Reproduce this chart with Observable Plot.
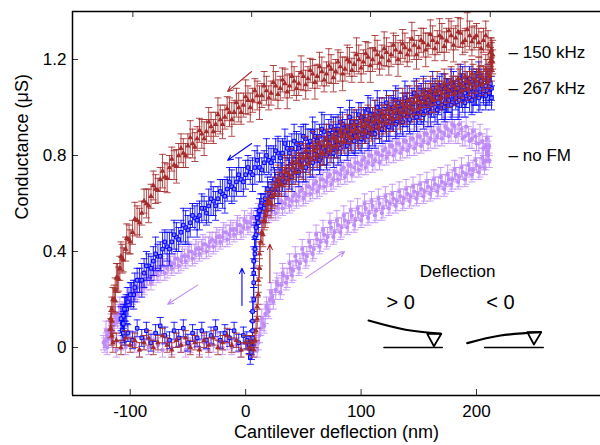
<!DOCTYPE html>
<html><head><meta charset="utf-8">
<script src="https://cdn.jsdelivr.net/npm/d3@7"></script>
<script src="https://cdn.jsdelivr.net/npm/@observablehq/plot@0.6"></script>
<style>body{margin:0;background:#fff;} svg{display:block;}</style>
</head><body><div id="chart"></div>
<script>
// ---- axes ----
const xDomain = [-150, 307.4];
const yDomain = [-0.2, 1.4];
const xTicks = [-100, 0, 100, 200];
const xTopTicks = [-97.7, 5.2, 108.2, 211.9];
const yTicks = [0, 0.4, 0.8, 1.2];
const xLabel = "Cantilever deflection (nm)";
const yLabel = "Conductance (μS)";

// ---- series ----
const seriesNames = ["150 kHz", "267 kHz", "no FM"];
const seriesColors = ["#a52a2a", "#0000ff", "#bf8cf7"];
const seriesLabelY = [1.23, 1.079, 0.80];

// points: [deflection nm, conductance µS, error µS]
const brownRise = [[7,-0.01,0.03],[8,0.03,0.03],[9,0.07,0.04],[10,0.12,0.04],[10,0.17,0.04],[11,0.22,0.04],[11,0.28,0.05],[12,0.33,0.04],[12,0.39,0.05],[13,0.44,0.04],[14,0.48,0.05],[16,0.53,0.04],[18,0.57,0.05],[20,0.61,0.04],[23,0.63,0.05],[26,0.67,0.04],[29,0.68,0.05],[32,0.71,0.04],[35,0.73,0.06],[38,0.72,0.04],[41,0.75,0.05],[44,0.77,0.04],[47,0.76,0.05],[50,0.79,0.06],[53,0.8,0.04],[56,0.79,0.05],[59,0.82,0.04],[62,0.83,0.05],[65,0.81,0.05],[68,0.84,0.04],[71,0.85,0.06],[74,0.84,0.05],[77,0.87,0.04],[80,0.86,0.05],[83,0.88,0.06],[86,0.89,0.04],[89,0.88,0.05],[92,0.9,0.05],[95,0.91,0.04],[98,0.9,0.06],[101,0.92,0.05],[104,0.93,0.04],[107,0.92,0.05],[110,0.94,0.06],[113,0.95,0.04],[116,0.94,0.05],[119,0.96,0.05],[122,0.97,0.04],[125,0.96,0.06],[128,0.98,0.05],[131,0.99,0.04],[134,0.98,0.05],[137,1.0,0.06],[140,1.01,0.05],[143,1.0,0.04],[146,1.02,0.05],[149,1.03,0.06],[152,1.02,0.05],[155,1.04,0.04],[158,1.05,0.05],[161,1.04,0.06],[164,1.06,0.05],[167,1.07,0.04],[170,1.06,0.05],[173,1.08,0.06],[176,1.07,0.05],[179,1.09,0.04],[182,1.08,0.05],[185,1.1,0.06],[188,1.09,0.05],[191,1.11,0.04],[194,1.1,0.05],[197,1.12,0.06],[200,1.11,0.05],[203,1.13,0.04],[206,1.12,0.05],[209,1.14,0.06],[211,1.13,0.05],[213,1.16,0.05],[214,1.19,0.05],[214,1.22,0.06],[213,1.24,0.05]];
const brownRiseB = [[15,0.47,0.05],[17,0.55,0.05],[19,0.60,0.05],[22,0.60,0.06],[25,0.64,0.05],[28,0.70,0.06],[31,0.68,0.05],[34,0.74,0.06],[37,0.70,0.05],[40,0.77,0.06],[43,0.73,0.05],[46,0.79,0.06],[49,0.75,0.05],[52,0.82,0.06],[55,0.77,0.05],[58,0.84,0.06],[61,0.80,0.05],[64,0.85,0.06],[67,0.81,0.05],[70,0.87,0.06],[73,0.82,0.05],[76,0.88,0.06],[79,0.84,0.05],[82,0.90,0.06],[85,0.86,0.05],[88,0.91,0.06],[91,0.87,0.05],[94,0.93,0.06],[97,0.88,0.05],[100,0.94,0.06],[103,0.90,0.05],[106,0.95,0.06],[109,0.91,0.05],[112,0.97,0.06],[115,0.92,0.05],[118,0.98,0.06],[121,0.94,0.05],[124,0.99,0.06],[127,0.95,0.05],[130,1.01,0.06],[133,0.96,0.05],[136,1.02,0.06],[139,0.98,0.05],[142,1.03,0.06],[145,0.99,0.05],[148,1.05,0.06],[151,1.00,0.05],[154,1.06,0.06],[157,1.02,0.05],[160,1.07,0.06],[163,1.03,0.05],[166,1.09,0.06],[169,1.04,0.05],[172,1.10,0.06],[175,1.05,0.05],[178,1.11,0.06],[181,1.06,0.05],[184,1.12,0.06],[187,1.07,0.05],[190,1.13,0.06],[193,1.08,0.05],[196,1.14,0.06],[199,1.09,0.05],[202,1.15,0.06],[205,1.10,0.05],[208,1.16,0.06],[210,1.11,0.05],[212,1.19,0.06],[213,1.21,0.06],[212,1.23,0.06]];
const brownReturn = [[210,1.26,0.06],[206,1.28,0.05],[202,1.27,0.06],[198,1.29,0.05],[194,1.3,0.06],[190,1.28,0.05],[186,1.31,0.06],[182,1.29,0.05],[178,1.3,0.06],[174,1.28,0.05],[170,1.29,0.06],[166,1.27,0.05],[162,1.28,0.06],[158,1.26,0.05],[154,1.27,0.06],[150,1.25,0.05],[146,1.26,0.06],[142,1.24,0.05],[138,1.25,0.06],[134,1.23,0.05],[130,1.24,0.06],[126,1.22,0.05],[122,1.23,0.06],[118,1.21,0.05],[114,1.22,0.06],[110,1.2,0.05],[106,1.21,0.06],[102,1.19,0.05],[98,1.2,0.06],[94,1.18,0.05],[90,1.19,0.06],[86,1.16,0.05],[82,1.17,0.06],[78,1.15,0.05],[74,1.16,0.06],[70,1.14,0.05],[66,1.15,0.06],[62,1.13,0.05],[58,1.14,0.06],[54,1.12,0.05],[50,1.13,0.06],[46,1.1,0.05],[42,1.11,0.06],[38,1.09,0.05],[34,1.1,0.06],[30,1.08,0.05],[26,1.09,0.06],[22,1.06,0.05],[18,1.07,0.06],[14,1.05,0.05],[10,1.05,0.06],[6,1.03,0.05],[2,1.03,0.06],[-2,1.01,0.05],[-6,1.0,0.06],[-10,0.98,0.05],[-14,0.98,0.06],[-18,0.96,0.05],[-22,0.95,0.06],[-26,0.93,0.05],[-30,0.92,0.06],[-34,0.9,0.05],[-38,0.89,0.06],[-42,0.87,0.05],[-46,0.85,0.06],[-50,0.84,0.05],[-54,0.81,0.06],[-58,0.8,0.05],[-62,0.76,0.06],[-66,0.75,0.05],[-70,0.71,0.06],[-74,0.7,0.05],[-78,0.66,0.06],[-82,0.63,0.05],[-86,0.6,0.06],[-90,0.56,0.05],[-94,0.53,0.06],[-98,0.48,0.05],[-101,0.45,0.06],[-104,0.41,0.05],[-107,0.37,0.06],[-109,0.33,0.05],[-111,0.29,0.06],[-113,0.24,0.05],[-114,0.2,0.06],[-116,0.16,0.05],[-117,0.12,0.05],[-117,0.08,0.04],[-116,0.05,0.04],[-115,0.02,0.04]];
const brownReturnB = [[208,1.30,0.06],[204,1.245,0.07],[200,1.30,0.05],[196,1.275,0.06],[192,1.325,0.07],[188,1.27,0.05],[184,1.315,0.06],[180,1.26,0.07],[176,1.32,0.05],[172,1.255,0.06],[168,1.30,0.07],[164,1.245,0.05],[160,1.305,0.06],[156,1.24,0.07],[152,1.28,0.05],[148,1.22,0.06],[144,1.285,0.07],[140,1.22,0.05],[136,1.265,0.06],[132,1.20,0.07],[128,1.26,0.05],[124,1.195,0.06],[120,1.245,0.07],[116,1.185,0.05],[112,1.24,0.06],[108,1.175,0.07],[104,1.225,0.05],[100,1.165,0.06],[96,1.22,0.07],[92,1.155,0.05],[88,1.20,0.06],[84,1.14,0.07],[80,1.19,0.05],[76,1.125,0.06],[72,1.175,0.07],[68,1.115,0.05],[64,1.17,0.06],[60,1.105,0.07],[56,1.155,0.05],[52,1.095,0.06],[48,1.145,0.07],[44,1.08,0.05],[40,1.13,0.06],[36,1.065,0.07],[32,1.115,0.05],[28,1.055,0.06],[24,1.105,0.07],[20,1.04,0.05],[16,1.09,0.06],[12,1.02,0.07],[8,1.07,0.05],[4,1.00,0.06],[0,1.045,0.07],[-4,0.98,0.05],[-8,1.02,0.06],[-12,0.95,0.07],[-16,0.995,0.05],[-20,0.93,0.06],[-24,0.97,0.07],[-28,0.90,0.05],[-32,0.94,0.06],[-36,0.87,0.07],[-40,0.905,0.05],[-44,0.835,0.06],[-48,0.875,0.07],[-52,0.80,0.05],[-56,0.83,0.06],[-60,0.755,0.07],[-64,0.785,0.05],[-68,0.705,0.06],[-72,0.735,0.07],[-76,0.655,0.05],[-80,0.675,0.06],[-84,0.59,0.07],[-88,0.61,0.05],[-92,0.52,0.06],[-96,0.535,0.07],[-100,0.44,0.05],[-103,0.455,0.06],[-106,0.365,0.05],[-108,0.38,0.06],[-110,0.285,0.05],[-112,0.29,0.06],[-113,0.195,0.05],[-115,0.20,0.05],[-116,0.11,0.04]];
const brownZero = [[-112,0.03,0.03],[-108,0.0,0.03],[-104,0.04,0.03],[-100,0.01,0.03],[-96,0.03,0.03],[-92,-0.01,0.03],[-88,0.02,0.03],[-84,0.04,0.03],[-80,0.0,0.03],[-76,0.02,0.03],[-72,0.05,0.03],[-68,0.01,0.03],[-64,-0.01,0.03],[-60,0.03,0.03],[-56,0.01,0.03],[-52,0.04,0.03],[-48,0.0,0.03],[-44,0.02,0.03],[-40,-0.01,0.03],[-36,0.03,0.03],[-32,0.01,0.03],[-28,0.04,0.03],[-24,0.0,0.03],[-20,0.02,0.03],[-16,0.05,0.03],[-12,0.01,0.03],[-8,0.03,0.03],[-4,-0.01,0.03],[0,0.02,0.03],[3,0.0,0.03],[5,0.02,0.03]];

const blueRise = [[4,-0.04,0.03],[5,-0.02,0.03],[5,0.0,0.03],[5,0.02,0.03],[6,0.04,0.03],[6,0.07,0.04],[6,0.11,0.04],[6,0.15,0.04],[7,0.2,0.05],[7,0.27,0.06],[7,0.36,0.06],[8,0.41,0.05],[8,0.46,0.05],[9,0.5,0.05],[10,0.54,0.04],[12,0.57,0.05],[14,0.6,0.04],[17,0.62,0.05],[20,0.64,0.05],[23,0.66,0.04],[26,0.68,0.05],[29,0.69,0.06],[32,0.7,0.05],[35,0.72,0.04],[38,0.71,0.05],[41,0.74,0.06],[44,0.74,0.05],[47,0.76,0.05],[50,0.75,0.06],[53,0.78,0.05],[56,0.77,0.06],[59,0.79,0.05],[62,0.8,0.06],[65,0.79,0.05],[68,0.82,0.06],[71,0.81,0.05],[74,0.83,0.06],[77,0.84,0.05],[80,0.83,0.07],[83,0.85,0.05],[86,0.86,0.06],[89,0.85,0.05],[92,0.87,0.06],[95,0.88,0.07],[98,0.87,0.05],[101,0.89,0.06],[104,0.9,0.05],[107,0.89,0.06],[110,0.91,0.07],[113,0.92,0.05],[116,0.91,0.06],[119,0.93,0.05],[122,0.93,0.07],[125,0.94,0.06],[128,0.95,0.05],[131,0.94,0.06],[134,0.96,0.07],[137,0.97,0.05],[140,0.96,0.06],[143,0.98,0.05],[146,0.97,0.07],[149,0.99,0.06],[152,0.98,0.05],[155,1.0,0.06],[158,0.99,0.07],[161,1.01,0.05],[164,1.0,0.06],[167,1.02,0.05],[170,1.01,0.06],[173,1.02,0.07],[176,1.03,0.05],[179,1.02,0.06],[182,1.04,0.05],[185,1.03,0.07],[188,1.04,0.06],[191,1.05,0.05],[194,1.04,0.06],[197,1.05,0.07],[200,1.06,0.05],[203,1.05,0.06],[206,1.06,0.05],[209,1.07,0.06],[211,1.06,0.05],[213,1.08,0.05]];
const blueRiseB = [[7,0.31,0.06],[8,0.39,0.06],[9,0.47,0.05],[11,0.52,0.05],[13,0.59,0.05],[16,0.58,0.06],[19,0.66,0.05],[22,0.63,0.06],[25,0.70,0.05],[28,0.66,0.06],[31,0.72,0.05],[34,0.69,0.06],[37,0.74,0.05],[40,0.71,0.06],[43,0.77,0.05],[46,0.73,0.06],[49,0.78,0.05],[52,0.75,0.06],[55,0.80,0.05],[58,0.77,0.06],[61,0.82,0.05],[64,0.78,0.06],[67,0.83,0.07],[70,0.80,0.06],[73,0.85,0.05],[76,0.81,0.06],[79,0.86,0.07],[82,0.83,0.06],[85,0.88,0.05],[88,0.84,0.06],[91,0.89,0.07],[94,0.86,0.06],[97,0.90,0.05],[100,0.87,0.06],[103,0.92,0.07],[106,0.88,0.06],[109,0.93,0.05],[112,0.89,0.06],[115,0.94,0.07],[118,0.91,0.06],[121,0.95,0.05],[124,0.92,0.06],[127,0.97,0.07],[130,0.93,0.06],[133,0.98,0.05],[136,0.94,0.06],[139,0.99,0.07],[142,0.95,0.06],[145,1.00,0.05],[148,0.96,0.06],[151,1.01,0.07],[154,0.97,0.06],[157,1.02,0.05],[160,0.98,0.06],[163,1.03,0.07],[166,0.99,0.06],[169,1.04,0.05],[172,1.00,0.06],[175,1.05,0.07],[178,1.01,0.06],[181,1.06,0.05],[184,1.01,0.06],[187,1.07,0.07],[190,1.02,0.06],[193,1.07,0.05],[196,1.03,0.06],[199,1.08,0.07],[202,1.04,0.06],[205,1.09,0.05],[208,1.05,0.06],[211,1.09,0.07],[213,1.04,0.05]];
const blueReturn = [[212,1.1,0.05],[208,1.09,0.06],[204,1.11,0.05],[200,1.1,0.06],[196,1.11,0.05],[192,1.09,0.06],[188,1.1,0.07],[184,1.08,0.05],[180,1.09,0.06],[176,1.07,0.05],[172,1.08,0.06],[168,1.06,0.07],[164,1.07,0.05],[160,1.05,0.06],[156,1.06,0.05],[152,1.04,0.06],[148,1.05,0.07],[144,1.03,0.05],[140,1.03,0.06],[136,1.01,0.05],[132,1.02,0.06],[128,1.0,0.07],[124,1.0,0.05],[120,0.98,0.06],[116,0.99,0.05],[112,0.97,0.06],[108,0.97,0.07],[104,0.95,0.05],[100,0.96,0.06],[96,0.94,0.05],[92,0.94,0.06],[88,0.92,0.07],[84,0.93,0.05],[80,0.91,0.06],[76,0.91,0.05],[72,0.89,0.06],[68,0.9,0.07],[64,0.88,0.05],[60,0.88,0.06],[56,0.86,0.05],[52,0.87,0.06],[48,0.85,0.07],[44,0.85,0.05],[40,0.83,0.06],[36,0.83,0.05],[32,0.81,0.06],[28,0.81,0.07],[24,0.79,0.05],[20,0.78,0.06],[16,0.77,0.05],[12,0.75,0.06],[8,0.75,0.07],[4,0.73,0.05],[0,0.72,0.06],[-4,0.7,0.05],[-8,0.69,0.06],[-12,0.67,0.07],[-16,0.66,0.05],[-20,0.64,0.06],[-24,0.62,0.05],[-28,0.61,0.06],[-32,0.59,0.07],[-36,0.58,0.05],[-40,0.55,0.06],[-44,0.54,0.05],[-48,0.52,0.06],[-52,0.5,0.07],[-56,0.48,0.05],[-60,0.46,0.06],[-64,0.44,0.05],[-68,0.42,0.06],[-72,0.41,0.07],[-76,0.38,0.05],[-80,0.36,0.06],[-84,0.34,0.05],[-88,0.31,0.06],[-92,0.28,0.05],[-96,0.25,0.06],[-99,0.22,0.05],[-102,0.19,0.06],[-104,0.16,0.05],[-106,0.13,0.05],[-107,0.1,0.04],[-107,0.07,0.04],[-105,0.05,0.04]];
const blueReturnB = [[210,1.12,0.06],[206,1.07,0.05],[202,1.13,0.06],[198,1.08,0.07],[194,1.12,0.05],[190,1.06,0.06],[186,1.11,0.07],[182,1.06,0.05],[178,1.10,0.06],[174,1.05,0.07],[170,1.09,0.05],[166,1.04,0.06],[162,1.08,0.07],[158,1.03,0.05],[154,1.07,0.06],[150,1.02,0.07],[146,1.06,0.05],[142,1.00,0.06],[138,1.04,0.07],[134,0.99,0.05],[130,1.03,0.06],[126,0.98,0.07],[122,1.02,0.05],[118,0.96,0.06],[114,1.00,0.07],[110,0.95,0.05],[106,0.99,0.06],[102,0.93,0.07],[98,0.97,0.05],[94,0.92,0.06],[90,0.96,0.07],[86,0.90,0.05],[82,0.94,0.06],[78,0.89,0.07],[74,0.92,0.05],[70,0.87,0.06],[66,0.91,0.07],[62,0.86,0.05],[58,0.90,0.06],[54,0.84,0.07],[50,0.88,0.05],[46,0.83,0.06],[42,0.86,0.07],[38,0.81,0.05],[34,0.85,0.06],[30,0.79,0.07],[26,0.82,0.05],[22,0.77,0.06],[18,0.80,0.07],[14,0.74,0.05],[10,0.78,0.06],[6,0.72,0.07],[2,0.75,0.05],[-2,0.69,0.06],[-6,0.72,0.07],[-10,0.66,0.05],[-14,0.69,0.06],[-18,0.63,0.07],[-22,0.65,0.05],[-26,0.59,0.06],[-30,0.62,0.07],[-34,0.56,0.05],[-38,0.58,0.06],[-42,0.53,0.07],[-46,0.55,0.05],[-50,0.49,0.06],[-54,0.51,0.07],[-58,0.45,0.05],[-62,0.47,0.06],[-66,0.41,0.07],[-70,0.44,0.05],[-74,0.38,0.06],[-78,0.39,0.07],[-82,0.33,0.05],[-86,0.34,0.06],[-90,0.28,0.07],[-94,0.28,0.05],[-97,0.22,0.06],[-100,0.22,0.05],[-103,0.16,0.06],[-105,0.16,0.05],[-106,0.10,0.05],[-108,0.12,0.05],[-106,0.06,0.04]];
const blueZero = [[-102,0.06,0.035],[-98,0.03,0.035],[-94,0.08,0.035],[-90,0.04,0.035],[-86,0.07,0.035],[-82,0.02,0.035],[-78,0.06,0.035],[-74,0.09,0.035],[-70,0.05,0.035],[-66,0.03,0.035],[-62,0.07,0.035],[-58,0.04,0.035],[-54,0.08,0.035],[-50,0.02,0.035],[-46,0.06,0.035],[-42,0.04,0.035],[-38,0.07,0.035],[-34,0.03,0.035],[-30,0.05,0.035],[-26,0.08,0.035],[-22,0.03,0.035],[-18,0.06,0.035],[-14,0.04,0.035],[-10,0.07,0.035],[-6,0.02,0.035],[-2,0.05,0.035],[1,0.03,0.035],[3,0.01,0.035]];

const purpleRise = [[10,-0.01,0.03],[11,0.02,0.03],[12,0.05,0.03],[13,0.08,0.03],[15,0.1,0.03],[17,0.14,0.04],[19,0.16,0.03],[21,0.2,0.04],[23,0.21,0.03],[26,0.24,0.04],[28,0.26,0.03],[31,0.26,0.04],[33,0.3,0.03],[36,0.29,0.04],[39,0.33,0.03],[41,0.32,0.04],[44,0.36,0.03],[47,0.35,0.04],[50,0.39,0.03],[53,0.38,0.04],[56,0.42,0.03],[59,0.41,0.04],[62,0.45,0.03],[65,0.44,0.04],[68,0.47,0.03],[71,0.46,0.04],[74,0.5,0.03],[77,0.48,0.04],[80,0.51,0.03],[83,0.5,0.04],[86,0.53,0.03],[89,0.52,0.04],[92,0.55,0.03],[95,0.53,0.04],[98,0.56,0.03],[101,0.55,0.04],[104,0.58,0.03],[107,0.56,0.04],[110,0.59,0.03],[113,0.57,0.04],[116,0.6,0.03],[119,0.58,0.04],[122,0.61,0.03],[125,0.6,0.04],[128,0.62,0.03],[131,0.61,0.04],[134,0.63,0.03],[137,0.62,0.04],[140,0.64,0.03],[143,0.63,0.04],[146,0.65,0.03],[149,0.64,0.04],[152,0.66,0.03],[155,0.65,0.04],[158,0.67,0.03],[161,0.66,0.04],[164,0.68,0.03],[167,0.67,0.04],[170,0.69,0.03],[173,0.68,0.04],[176,0.7,0.03],[179,0.7,0.04],[182,0.72,0.03],[185,0.71,0.04],[188,0.73,0.03],[191,0.72,0.04],[194,0.74,0.03],[197,0.74,0.04],[200,0.76,0.03],[203,0.75,0.04],[206,0.77,0.03],[208,0.78,0.04],[210,0.8,0.03],[210,0.82,0.04]];
const purpleRiseB = [[14,0.12,0.04],[16,0.09,0.03],[18,0.17,0.04],[20,0.15,0.03],[22,0.23,0.04],[24,0.19,0.03],[27,0.27,0.04],[30,0.23,0.03],[32,0.31,0.04],[35,0.27,0.03],[38,0.35,0.04],[40,0.30,0.03],[43,0.38,0.04],[46,0.33,0.03],[49,0.41,0.04],[52,0.36,0.03],[55,0.44,0.04],[58,0.39,0.03],[61,0.47,0.04],[64,0.42,0.03],[67,0.49,0.04],[70,0.44,0.03],[73,0.52,0.04],[76,0.46,0.03],[79,0.53,0.04],[82,0.48,0.03],[85,0.55,0.04],[88,0.50,0.03],[91,0.57,0.04],[94,0.51,0.03],[97,0.58,0.04],[100,0.53,0.03],[103,0.60,0.04],[106,0.54,0.03],[109,0.61,0.04],[112,0.55,0.03],[115,0.62,0.04],[118,0.56,0.03],[121,0.63,0.04],[124,0.58,0.03],[127,0.64,0.04],[130,0.59,0.03],[133,0.65,0.04],[136,0.60,0.03],[139,0.66,0.04],[142,0.61,0.03],[145,0.67,0.04],[148,0.62,0.03],[151,0.68,0.04],[154,0.63,0.03],[157,0.69,0.04],[160,0.64,0.03],[163,0.70,0.04],[166,0.65,0.03],[169,0.71,0.04],[172,0.66,0.03],[175,0.72,0.04],[178,0.68,0.03],[181,0.74,0.04],[184,0.69,0.03],[187,0.75,0.04],[190,0.70,0.03],[193,0.76,0.04],[196,0.72,0.03],[199,0.78,0.04],[202,0.73,0.03],[205,0.79,0.04],[207,0.75,0.03],[209,0.81,0.04],[211,0.78,0.03],[211,0.84,0.04]];
const purpleReturn = [[208,0.84,0.04],[205,0.86,0.03],[202,0.85,0.04],[199,0.88,0.03],[196,0.87,0.04],[193,0.89,0.03],[190,0.88,0.04],[187,0.91,0.03],[184,0.89,0.04],[181,0.92,0.03],[178,0.9,0.04],[175,0.91,0.03],[172,0.89,0.04],[169,0.9,0.03],[166,0.88,0.04],[163,0.9,0.03],[160,0.87,0.04],[157,0.89,0.03],[154,0.86,0.04],[151,0.88,0.03],[148,0.85,0.04],[145,0.87,0.03],[142,0.84,0.04],[139,0.86,0.03],[136,0.83,0.04],[133,0.85,0.03],[130,0.82,0.04],[127,0.84,0.03],[124,0.81,0.04],[121,0.83,0.03],[118,0.8,0.04],[115,0.81,0.03],[112,0.78,0.04],[109,0.8,0.03],[106,0.77,0.04],[103,0.79,0.03],[100,0.76,0.04],[97,0.77,0.03],[94,0.75,0.04],[91,0.76,0.03],[88,0.73,0.04],[85,0.75,0.03],[82,0.72,0.04],[79,0.73,0.03],[76,0.7,0.04],[73,0.72,0.03],[70,0.69,0.04],[67,0.7,0.03],[64,0.67,0.04],[61,0.69,0.03],[58,0.66,0.04],[55,0.67,0.03],[52,0.64,0.04],[49,0.66,0.03],[46,0.63,0.04],[43,0.64,0.03],[40,0.61,0.04],[37,0.62,0.03],[34,0.6,0.04],[31,0.61,0.03],[28,0.58,0.04],[25,0.59,0.03],[22,0.57,0.04],[19,0.57,0.03],[16,0.55,0.04],[13,0.56,0.03],[10,0.53,0.04],[7,0.54,0.03],[4,0.52,0.04],[1,0.52,0.03],[-2,0.5,0.04],[-5,0.51,0.03],[-8,0.49,0.04],[-11,0.49,0.03],[-14,0.47,0.04],[-17,0.48,0.03],[-20,0.46,0.04],[-23,0.46,0.03],[-26,0.44,0.04],[-29,0.45,0.03],[-32,0.42,0.04],[-35,0.43,0.03],[-38,0.41,0.04],[-41,0.41,0.03],[-44,0.39,0.04],[-47,0.4,0.03],[-50,0.38,0.04],[-53,0.38,0.03],[-56,0.36,0.04],[-59,0.37,0.03],[-62,0.35,0.04],[-65,0.35,0.03],[-68,0.33,0.04],[-71,0.34,0.03],[-74,0.32,0.04],[-77,0.31,0.03],[-80,0.3,0.04],[-83,0.29,0.03],[-86,0.28,0.04],[-89,0.26,0.03],[-92,0.25,0.04],[-95,0.23,0.03],[-98,0.22,0.04],[-101,0.2,0.03],[-104,0.18,0.04],[-107,0.16,0.03],[-110,0.14,0.04],[-112,0.12,0.03],[-114,0.1,0.04],[-116,0.08,0.03],[-118,0.07,0.04],[-120,0.05,0.03],[-121,0.03,0.03],[-122,0.01,0.03]];
const purpleReturnB = [[209,0.87,0.04],[206,0.83,0.03],[203,0.89,0.04],[200,0.85,0.03],[197,0.90,0.04],[194,0.86,0.03],[191,0.92,0.04],[188,0.87,0.03],[185,0.93,0.04],[182,0.88,0.03],[179,0.93,0.04],[176,0.88,0.03],[173,0.92,0.04],[170,0.87,0.03],[167,0.91,0.04],[164,0.86,0.03],[161,0.90,0.04],[158,0.85,0.03],[155,0.89,0.04],[152,0.84,0.03],[149,0.88,0.04],[146,0.83,0.03],[143,0.87,0.04],[140,0.82,0.03],[137,0.86,0.04],[134,0.81,0.03],[131,0.85,0.04],[128,0.80,0.03],[125,0.84,0.04],[122,0.79,0.03],[119,0.82,0.04],[116,0.77,0.03],[113,0.81,0.04],[110,0.76,0.03],[107,0.80,0.04],[104,0.75,0.03],[101,0.78,0.04],[98,0.74,0.03],[95,0.77,0.04],[92,0.72,0.03],[89,0.76,0.04],[86,0.71,0.03],[83,0.74,0.04],[80,0.70,0.03],[77,0.73,0.04],[74,0.68,0.03],[71,0.71,0.04],[68,0.67,0.03],[65,0.70,0.04],[62,0.65,0.03],[59,0.68,0.04],[56,0.64,0.03],[53,0.67,0.04],[50,0.62,0.03],[47,0.65,0.04],[44,0.61,0.03],[41,0.63,0.04],[38,0.59,0.03],[35,0.62,0.04],[32,0.58,0.03],[29,0.60,0.04],[26,0.56,0.03],[23,0.59,0.04],[20,0.55,0.03],[17,0.57,0.04],[14,0.53,0.03],[11,0.56,0.04],[8,0.51,0.03],[5,0.54,0.04],[2,0.50,0.03],[-1,0.53,0.04],[-4,0.48,0.03],[-7,0.51,0.04],[-10,0.47,0.03],[-13,0.49,0.04],[-16,0.45,0.03],[-19,0.48,0.04],[-22,0.44,0.03],[-25,0.46,0.04],[-28,0.42,0.03],[-31,0.44,0.04],[-34,0.40,0.03],[-37,0.43,0.04],[-40,0.39,0.03],[-43,0.41,0.04],[-46,0.37,0.03],[-49,0.40,0.04],[-52,0.36,0.03],[-55,0.38,0.04],[-58,0.34,0.03],[-61,0.37,0.04],[-64,0.33,0.03],[-67,0.35,0.04],[-70,0.31,0.03],[-73,0.34,0.04],[-76,0.30,0.03],[-79,0.32,0.04],[-82,0.27,0.03],[-85,0.30,0.04],[-88,0.25,0.03],[-91,0.27,0.04],[-94,0.22,0.03],[-97,0.24,0.04],[-100,0.19,0.03],[-103,0.21,0.04],[-106,0.15,0.03],[-109,0.17,0.04],[-111,0.11,0.03],[-113,0.13,0.04],[-115,0.07,0.03],[-117,0.10,0.04],[-119,0.04,0.03],[-121,0.07,0.04],[-123,0.02,0.03]];
const purpleZero = [[-120,0.0,0.03],[-116,0.03,0.03],[-112,-0.01,0.03],[-108,0.02,0.03],[-104,0.0,0.03],[-100,0.04,0.03],[-96,0.01,0.03],[-92,-0.01,0.03],[-88,0.02,0.03],[-84,0.0,0.03],[-80,0.03,0.03],[-76,0.01,0.03],[-72,-0.01,0.03],[-68,0.02,0.03],[-64,0.0,0.03],[-60,0.03,0.03],[-56,0.01,0.03],[-52,-0.01,0.03],[-48,0.01,0.03],[-44,0.03,0.03],[-40,0.0,0.03],[-36,0.02,0.03],[-32,-0.01,0.03],[-28,0.01,0.03],[-24,0.03,0.03],[-20,0.0,0.03],[-16,0.02,0.03],[-12,0.0,0.03],[-8,0.01,0.03],[-4,-0.01,0.03],[0,0.02,0.03],[4,0.0,0.03],[8,0.01,0.03]];

// ---- annotations ----
const arrowSeries = [0, 1, 2, 2, 1, 0];
const arrowFrom = [[5.2,1.15],[5.2,0.85],[-41.6,0.26],[52,0.29],[-3.2,0.175],[21,0.27]];
const arrowTo = [[-15.6,1.067],[-15.6,0.78],[-67.5,0.18],[85.7,0.40],[-3.2,0.33],[21,0.43]];
const insetTitle = "Deflection";
const insetTitlePos = [183.6, 0.317];
const insetSigns = ["> 0", "< 0"];
const insetSignPos = [[134.2, 0.1875], [220.8, 0.1875]];
const beamDown = [[106.5,0.1125],[138.6,0.074],[168.9,0.058]];
const beamUp = [[192,0.018],[220.8,0.05],[255.5,0.064]];
const tipDown = [[157.3,0.057],[169.5,0.057],[163.1,0.005],[157.3,0.057]];
const tipUp = [[244,0.064],[256.1,0.064],[249.7,0.0125],[244,0.064]];
const baseDown = [[119.8,0],[170.3,0]];
const baseUp = [[207,0],[257.8,0]];
const seriesLabelX = 227.8;

// ---- build ----
const W = 600, H = 445, mL = 72, mR = 0, mT = 11, mB = 50;
const innerW = W - mL - mR, innerH = H - mT - mB;
const segments = [
  [brownRise, brownRiseB, brownReturn, brownReturnB, brownZero],
  [blueRise, blueRiseB, blueReturn, blueReturnB, blueZero],
  [purpleRise, purpleRiseB, purpleReturn, purpleReturnB, purpleZero]
];
const rowsBySeries = segments.map((segs, s) => segs.flat().map(([x, y, e]) => ({s, x, y, lo: y - e, hi: y + e})));
const capSymbol = {draw(ctx, size) { const r = Math.sqrt(size / Math.PI); ctx.moveTo(-r, 0); ctx.lineTo(r, 0); }};
const markerSymbol = ["triangle", "square", "circle"];

const seriesMarks = (s) => {
  const rows = rowsBySeries[s], c = seriesColors[s];
  return [
    Plot.ruleX(rows, {x: "x", y1: "lo", y2: "hi", stroke: c, strokeWidth: 1, strokeOpacity: 0.85}),
    Plot.dot(rows, {x: "x", y: "lo", symbol: capSymbol, r: 3.5, stroke: c, fill: "none", strokeWidth: 1, strokeOpacity: 0.85}),
    Plot.dot(rows, {x: "x", y: "hi", symbol: capSymbol, r: 3.5, stroke: c, fill: "none", strokeWidth: 1, strokeOpacity: 0.85}),
    s === 1
      ? Plot.dot(rows, {x: "x", y: "y", symbol: "square", r: 2, stroke: c, fill: "#8080ff", strokeWidth: 1})
      : Plot.dot(rows, {x: "x", y: "y", symbol: markerSymbol[s], r: 2.1, fill: c, stroke: "none"})
  ];
};

const arrows = arrowSeries.map((s, i) => ({s, x1: arrowFrom[i][0], y1: arrowFrom[i][1], x2: arrowTo[i][0], y2: arrowTo[i][1]}));
const labels = seriesNames.map((n, i) => ({text: "\u2013 " + n, x: seriesLabelX, y: seriesLabelY[i]}));
const pts = (a) => a.map(([x, y]) => ({x, y}));

const chart = Plot.plot({
  width: W, height: H,
  marginLeft: mL, marginRight: mR, marginTop: mT, marginBottom: mB,
  style: {fontFamily: "'Liberation Sans', Arial, sans-serif", fontSize: "17px", background: "#fff", color: "#000"},
  x: {domain: xDomain, ticks: xTicks, tickSize: 0, tickPadding: 9, tickFormat: d => String(d), label: null},
  y: {domain: yDomain, ticks: yTicks, tickSize: 0, tickPadding: 6, tickFormat: d => String(d), label: null},
  marks: [
    ...seriesMarks(2), ...seriesMarks(1), ...seriesMarks(0),
    Plot.arrow(arrows, {x1: "x1", y1: "y1", x2: "x2", y2: "y2", stroke: d => seriesColors[d.s], headLength: 8, headAngle: 50, strokeWidth: 1.1, bend: 0}),
    Plot.text(labels, {x: "x", y: "y", text: "text", textAnchor: "start", fontSize: 17}),
    Plot.text([insetTitle], {x: insetTitlePos[0], y: insetTitlePos[1], fontSize: 17}),
    Plot.text(insetSigns, {x: (d, i) => insetSignPos[i][0], y: (d, i) => insetSignPos[i][1], fontSize: 20}),
    Plot.line(pts(beamDown), {x: "x", y: "y", curve: "natural", strokeWidth: 2.2}),
    Plot.line(pts(beamUp), {x: "x", y: "y", curve: "natural", strokeWidth: 2.2}),
    Plot.line(pts(tipDown), {x: "x", y: "y", strokeWidth: 1.8}),
    Plot.line(pts(tipUp), {x: "x", y: "y", strokeWidth: 1.8}),
    Plot.line(pts(baseDown), {x: "x", y: "y", strokeWidth: 1.5}),
    Plot.line(pts(baseUp), {x: "x", y: "y", strokeWidth: 1.5}),
    // inward ticks
    Plot.ruleX(xTicks, {x: d => d, insetTop: innerH - 6, stroke: "#333"}),
    Plot.ruleX(xTopTicks, {x: d => d, insetBottom: innerH - 6, stroke: "#333"}),
    Plot.ruleY(yTicks, {y: d => d, insetRight: innerW - 6, stroke: "#333"}),
    // frame (left, top, bottom)
    Plot.ruleY(yDomain, {y: d => d, strokeWidth: 1.5}),
    Plot.ruleX([xDomain[0]], {x: d => d, strokeWidth: 1.5}),
    // axis titles
    Plot.text([xLabel], {frameAnchor: "bottom", dy: 42, fontSize: 18}),
    Plot.text([yLabel], {frameAnchor: "left", dx: -50, dy: 16, rotate: -90, fontSize: 18})
  ]
});
document.getElementById("chart").append(chart);
</script>
</body></html>
